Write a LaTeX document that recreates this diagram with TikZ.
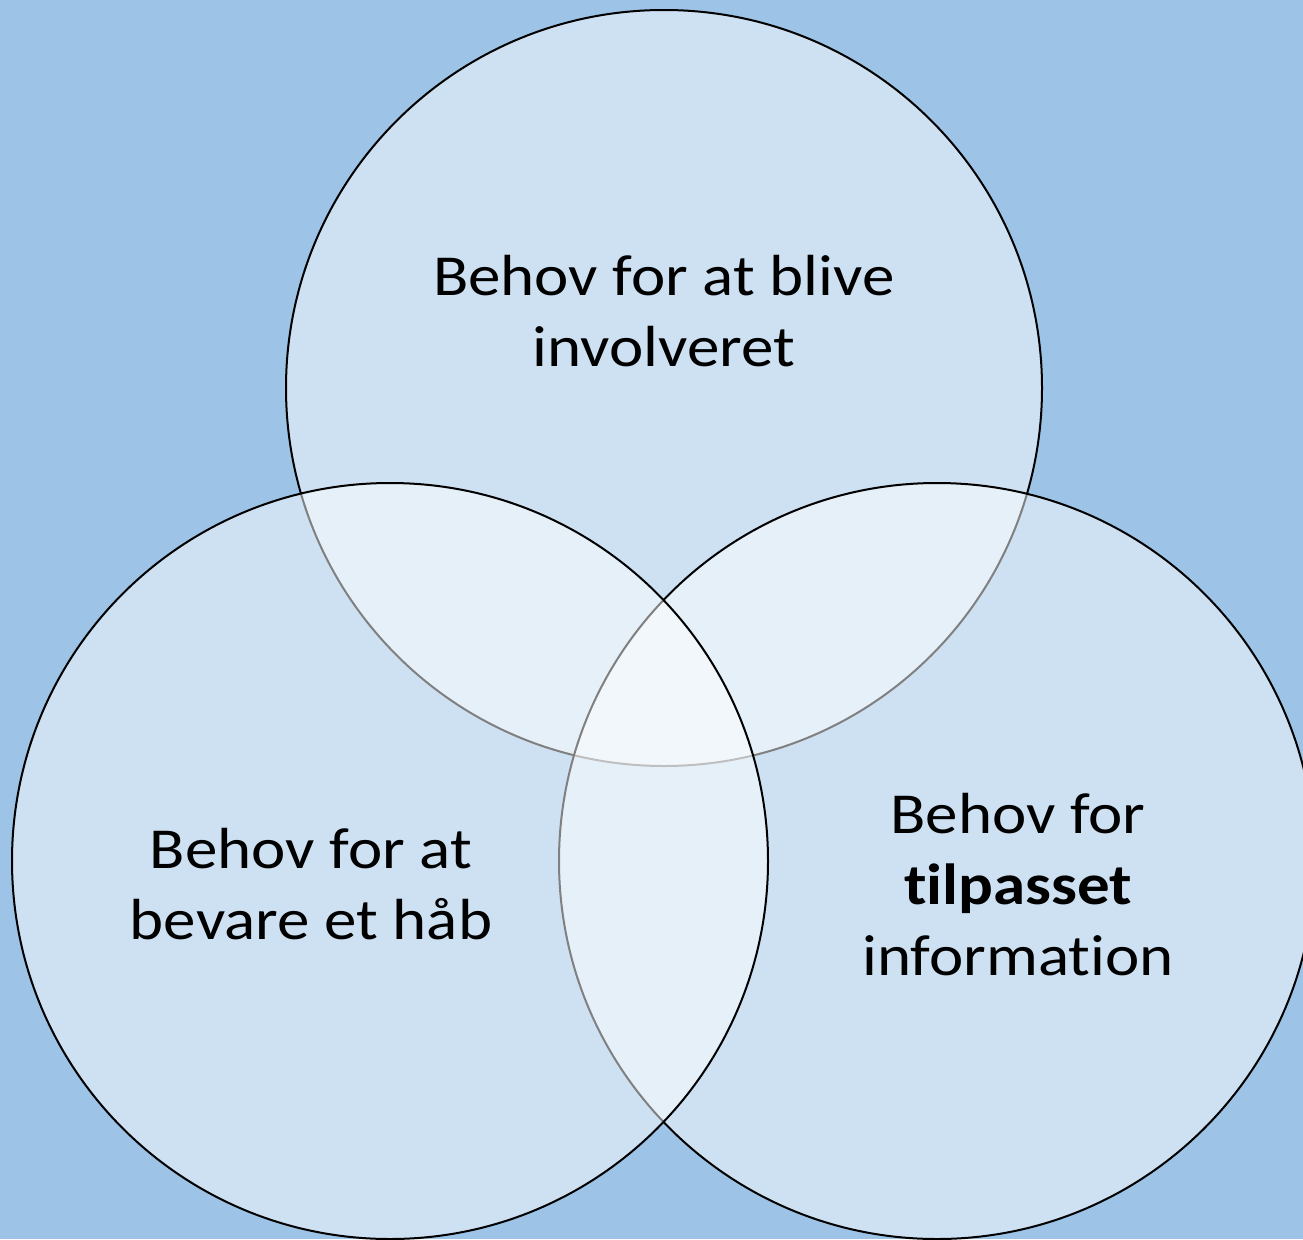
\documentclass[tikz,border=0pt]{standalone}
\usepackage{fontspec}
\setmainfont{Carlito}[FakeStretch=1.12, RawFeature=-liga]
\usepackage{tikz}
\definecolor{bgblue}{HTML}{9DC3E6}

\begin{document}
\begin{tikzpicture}
	[x=1pt, y=-1pt, venn/.style={circle, draw=black, line width=2pt, fill=white, fill opacity=0.5, minimum size=756pt, inner sep=0pt}, need/.style={align=center, text opacity=1, font=\fontsize{58}{71}\selectfont}] 
   \useasboundingbox[fill=bgblue] (0,0) rectangle (1303,1239);
   \node[venn] (top) at (664,388) {};
   \node[venn] (right) at (937,861) {};
   \node[venn] (left) at (390,861) {};

   \node[need] (top_txt) at (664,311) {Behov for at blive\\involveret};
   \node[need] (left_txt) at (311,884) {Behov for at\\bevare et håb};
   \node[need] (right_txt) at (1018,885) {Behov for\\\textbf{tilpasset}\\information};
\end{tikzpicture}
\end{document}
